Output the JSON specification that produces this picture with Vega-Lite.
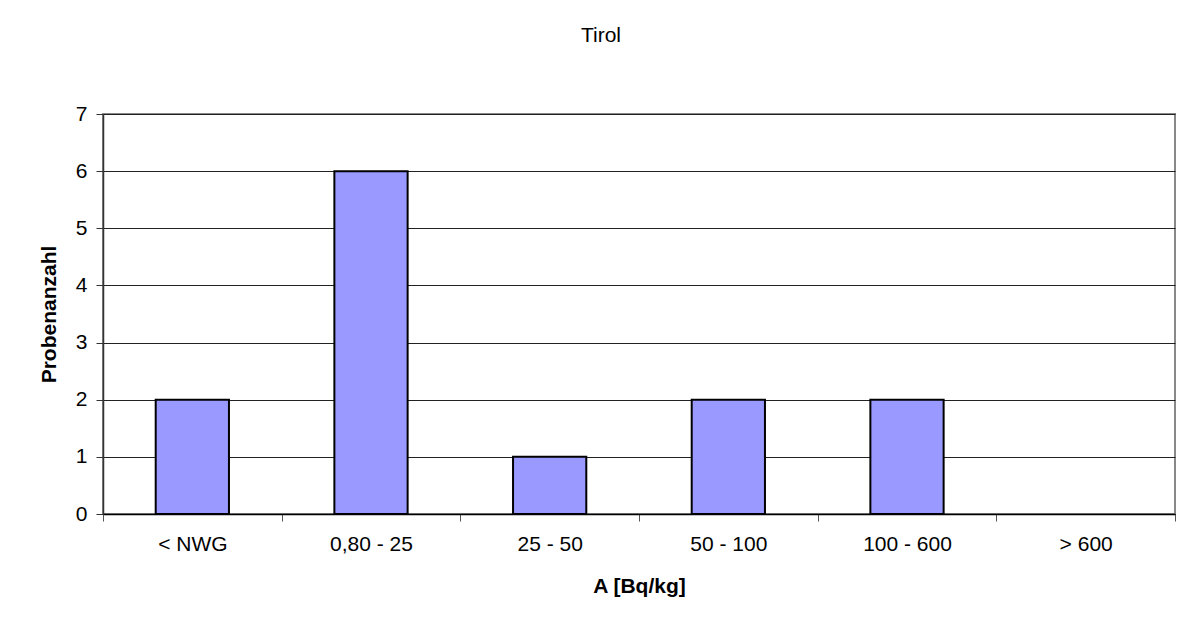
{
  "$schema": "https://vega.github.io/schema/vega-lite/v6.json",
  "width": 1072,
  "height": 400,
  "autosize": {"type": "none"},
  "padding": {"left": 103, "top": 114, "right": 14, "bottom": 114},
  "background": "white",
  "title": {
    "text": "Tirol",
    "font": "Liberation Sans",
    "fontSize": 21,
    "fontWeight": "normal",
    "color": "black",
    "anchor": "middle",
    "dx": -38,
    "offset": 57
  },
  "data": {
    "values": [
      {"klasse": "< NWG", "anzahl": 2},
      {"klasse": "0,80 - 25", "anzahl": 6},
      {"klasse": "25 - 50", "anzahl": 1},
      {"klasse": "50 - 100", "anzahl": 2},
      {"klasse": "100 - 600", "anzahl": 2},
      {"klasse": "> 600", "anzahl": 0}
    ]
  },
  "mark": {
    "type": "bar",
    "width": {"band": 0.41},
    "fill": "#9999FF",
    "stroke": "black",
    "strokeWidth": 2
  },
  "encoding": {
    "x": {
      "field": "klasse",
      "type": "nominal",
      "sort": null,
      "scale": {"paddingInner": 0, "paddingOuter": 0},
      "axis": {
        "title": "A [Bq/kg]",
        "labelAngle": 0,
        "tickBand": "extent",
        "grid": false,
        "domainColor": "black",
        "domainWidth": 1.5,
        "tickColor": "#555555",
        "tickSize": 7,
        "labelPadding": 12,
        "titlePadding": 21
      }
    },
    "y": {
      "field": "anzahl",
      "type": "quantitative",
      "scale": {"domain": [0, 7], "nice": false},
      "axis": {
        "title": "Probenanzahl",
        "values": [0, 1, 2, 3, 4, 5, 6, 7],
        "format": "d",
        "grid": true,
        "gridColor": "#222222",
        "gridWidth": 1.2,
        "domainColor": "#333333",
        "domainWidth": 1.5,
        "tickColor": "#333333",
        "tickSize": 7,
        "labelPadding": 9,
        "titlePadding": 16
      }
    },
    "strokeOpacity": {
      "condition": {"test": "datum.anzahl > 0", "value": 1},
      "value": 0
    }
  },
  "config": {
    "view": {"stroke": "#888888", "strokeWidth": 2},
    "axis": {
      "labelFont": "Liberation Sans",
      "labelFontSize": 21,
      "labelColor": "black",
      "titleFont": "Liberation Sans",
      "titleFontSize": 21,
      "titleFontWeight": "bold",
      "titleColor": "black"
    }
  }
}
